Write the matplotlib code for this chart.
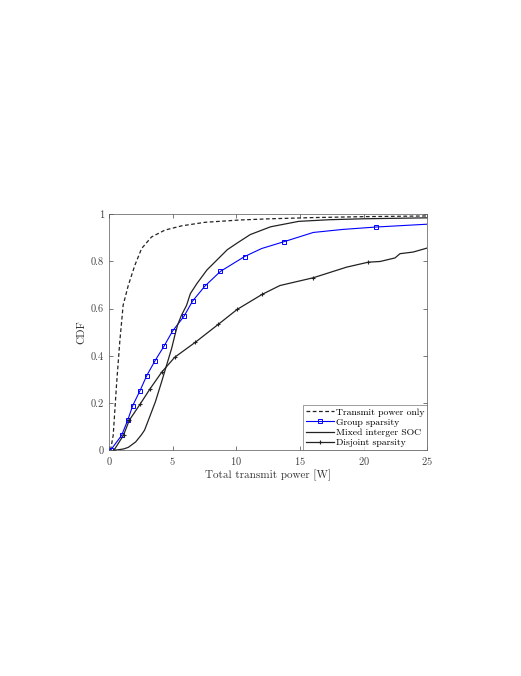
import matplotlib
matplotlib.use("Agg")
import matplotlib.pyplot as plt

plt.rcParams["font.family"] = "serif"
plt.rcParams["font.serif"] = ["cmr10", "DejaVu Serif"]
plt.rcParams["axes.formatter.use_mathtext"] = True

# CDF curves
transmit_x = [0.13, 0.34, 0.6, 0.86, 1.12, 1.52, 2.04, 2.57, 3.35, 4.4, 5.71, 7.54, 10.34, 12.7, 16.0, 20.0, 25.0]
transmit_y = [0.0, 0.064, 0.278, 0.463, 0.615, 0.698, 0.784, 0.855, 0.904, 0.933, 0.951, 0.966, 0.976, 0.981, 0.986, 0.99, 0.993]

group_x = [0.13, 1.0, 1.47, 1.87, 2.45, 2.97, 3.62, 4.34, 5.0, 5.9, 6.57, 7.53, 8.76, 10.66,
           12.0, 13.76, 16.05, 18.4, 20.97, 25.0]
group_y = [0.0, 0.063, 0.126, 0.189, 0.253, 0.316, 0.379, 0.442, 0.505, 0.568, 0.632, 0.695, 0.758, 0.821,
           0.855, 0.884, 0.923, 0.936, 0.946, 0.958]
group_marks = [0, 1, 2, 3, 4, 5, 6, 7, 8, 9, 10, 11, 12, 13, 15, 18]

mixed_x = [0.47, 1.13, 1.52, 2.1, 2.55, 2.8, 3.15, 3.65, 4.14, 4.53, 4.92, 5.18, 5.39, 5.7, 6.1, 6.4,
           6.92, 7.7, 8.5, 9.3, 10.1, 11.1, 12.7, 14.9, 17.3, 20.0, 25.0]
mixed_y = [0.0, 0.005, 0.012, 0.035, 0.065, 0.085, 0.134, 0.205, 0.29, 0.36, 0.43, 0.487, 0.53, 0.572, 0.614, 0.664,
           0.707, 0.764, 0.807, 0.85, 0.879, 0.914, 0.947, 0.97, 0.977, 0.981, 0.985]

disjoint_x = [0.4, 1.15, 1.6, 2.45, 3.23, 4.15, 5.17, 6.8, 8.58, 10.08, 12.05, 13.43, 16.05, 18.67,
              20.37, 21.3, 22.47, 22.86, 23.9, 25.0]
disjoint_y = [0.0, 0.064, 0.127, 0.195, 0.26, 0.331, 0.394, 0.458, 0.533, 0.597, 0.661, 0.698, 0.731, 0.776,
              0.797, 0.8, 0.815, 0.833, 0.84, 0.857]
disjoint_marks = [0, 1, 2, 3, 4, 5, 6, 7, 8, 9, 10, 12, 14]

x_ticks = [0, 5, 10, 15, 20, 25]
y_ticks = [0, 0.2, 0.4, 0.6, 0.8, 1]
y_ticklabels = ["0", "0.2", "0.4", "0.6", "0.8", "1"]

fig = plt.figure(figsize=(5.21, 6.76), dpi=100)
ax = fig.add_axes([0.209, 0.334, 0.611, 0.349])

ax.plot(transmit_x, transmit_y, color="#222222", lw=0.9, dashes=(3, 2), label="Transmit power only")
ax.plot(group_x, group_y, "-", color="blue", lw=0.8, marker="s", markersize=3.2,
        markerfacecolor="none", markeredgewidth=0.7, markevery=group_marks, label="Group sparsity")
ax.plot(mixed_x, mixed_y, "-", color="#222222", lw=0.9, label="Mixed interger SOC")
ax.plot(disjoint_x, disjoint_y, "-", color="#222222", lw=0.9, marker="+", markersize=3.5,
        markeredgewidth=0.8, markevery=disjoint_marks, label="Disjoint sparsity")

ax.set_xlim(0, 25)
ax.set_ylim(0, 1)
ax.set_xticks(x_ticks)
ax.set_yticks(y_ticks)
ax.set_yticklabels(y_ticklabels)
ax.tick_params(direction="in", length=3, width=0.5, top=True, right=True,
               labelsize=7.5, colors="#444444")
for s in ax.spines.values():
    s.set_linewidth(0.5)
    s.set_color("#555555")

ax.set_xlabel("Total transmit power [W]", fontsize=8, color="#333333", labelpad=2)
ax.set_ylabel("CDF", fontsize=8, color="#333333", labelpad=3)

leg = ax.legend(loc="lower right", fontsize=7, borderaxespad=0, handlelength=2.9,
                handletextpad=0.2, labelspacing=0.15, borderpad=0.3, fancybox=False)
leg.get_frame().set_edgecolor("#555555")
leg.get_frame().set_linewidth(0.5)

plt.savefig("out.png", dpi=100)
